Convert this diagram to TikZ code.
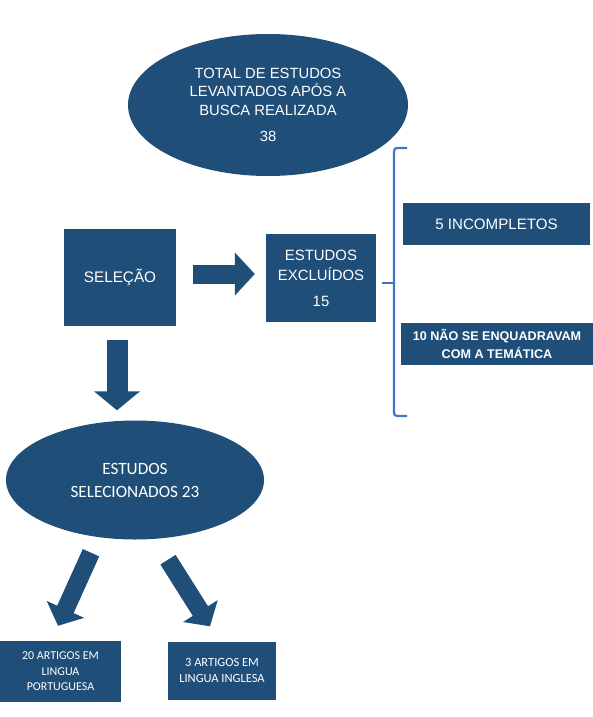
\documentclass[tikz,border=0pt]{standalone}
\usepackage{fontspec}
\setmainfont{Liberation Sans}
\newfontfamily\calibri{Carlito}
\usepackage{tikz}
\usetikzlibrary{arrows.meta, positioning, shapes.geometric, calc}

\definecolor{boxblue}{RGB}{31,78,121}
\definecolor{braceblue}{RGB}{68,114,196}

\tikzset{
  bluebox/.style={fill=boxblue, text=white, inner sep=0pt, align=center},
  blueoval/.style={ellipse, fill=boxblue, text=white, inner sep=0pt, align=center},
  bigarrow/.style={boxblue, line width=#1},
}

\begin{document}
\begin{tikzpicture}[x=1pt, y=-1pt]
  \useasboundingbox (0,0) rectangle (593,717);

  % Top ellipse
  \node[blueoval, minimum width=280, minimum height=142,
        font=\fontsize{14.8}{18.5}\selectfont] (total) at (268,105)
    {TOTAL DE ESTUDOS\\LEVANTADOS APÓS A\\BUSCA REALIZADA\\[8pt]38};

  % Selection and excluded
  \node[bluebox, minimum width=112, minimum height=97,
        font=\fontsize{15.3}{18}\selectfont] (sel) at (120,277.5) {SELEÇÃO};
  \node[bluebox, minimum width=110, minimum height=88,
        font=\fontsize{14.9}{20}\selectfont] (excl) at (321,278)
    {ESTUDOS\\EXCLUÍDOS\\[6pt]15};

  % Excluded reasons
  \node[bluebox, minimum width=187, minimum height=42,
        font=\fontsize{15.1}{18}\selectfont] (incomp) at (496.5,224) {5 INCOMPLETOS};
  \node[bluebox, minimum width=192, minimum height=42,
        font=\bfseries\fontsize{12.6}{18}\selectfont] (tema) at (497,344)
    {10 NÃO SE ENQUADRAVAM\\COM A TEMÁTICA};

  % Selected
  \node[blueoval, minimum width=258, minimum height=119,
        font=\calibri\fontsize{17.2}{23}\selectfont] (selec) at (135,480)
    {ESTUDOS\\SELECIONADOS 23};

  % Articles
  \node[bluebox, minimum width=121, minimum height=61,
        font=\calibri\fontsize{12}{15.5}\selectfont] (port) at (60.5,671.5)
    {20 ARTIGOS EM\\LINGUA\\PORTUGUESA};
  \node[bluebox, minimum width=108, minimum height=58,
        font=\calibri\fontsize{12.5}{15.5}\selectfont] (ingl) at (222,670.5)
    {3 ARTIGOS EM\\LINGUA INGLESA};

  % Block arrows
  \draw[bigarrow=19pt, -{Triangle[length=20pt, width=42pt]}]
    ([shift={(17,-3.5)}]sel.east) -- ([shift={(-11,-4)}]excl.west);
  \draw[bigarrow=21pt, -{Triangle[length=19pt, width=45pt]}]
    ([shift={(-3,14)}]sel.south) -- ([shift={(-18,-10)}]selec.north);
  \draw[bigarrow=18pt, -{Triangle[length=18pt, width=40pt]}]
    ([shift={(-44,13)}]selec.south) -- ([shift={(-2.5,-15)}]port.north);
  \draw[bigarrow=18pt, -{Triangle[length=18pt, width=40pt]}]
    ([shift={(33,20)}]selec.south) -- ([shift={(-12,-15)}]ingl.north);

  % Brace
  \draw[braceblue, line width=2.2pt, rounded corners=3pt]
    (407,148) -- (394,148) -- (394,416) -- (407,416);
  \draw[braceblue, line width=2.2pt] (394,283) -- (382,283);

\end{tikzpicture}
\end{document}
